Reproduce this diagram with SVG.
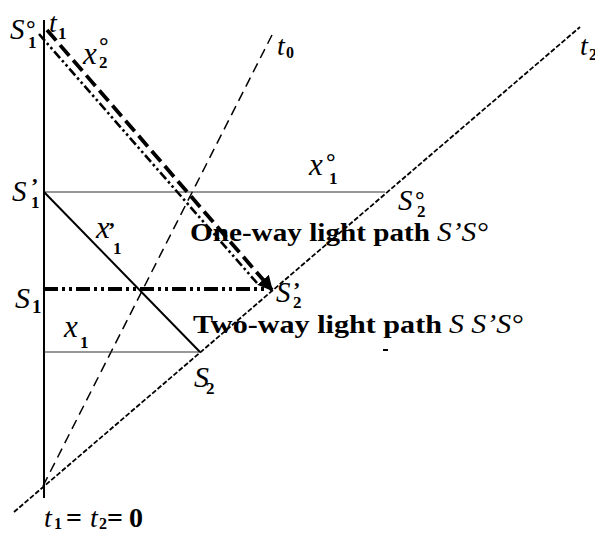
<svg xmlns="http://www.w3.org/2000/svg" width="595" height="535" viewBox="0 0 595 535">
<defs>
<style>
.it{font-family:"Liberation Serif","Times New Roman",serif;font-style:italic;fill:#000}
.bd{font-family:"Liberation Serif","Times New Roman",serif;font-weight:bold;fill:#000}
.thin{stroke:#333;stroke-width:1.2;fill:none}
.axis{stroke:#000;stroke-width:2;fill:none}
.t0{stroke:#000;stroke-width:1.5;stroke-dasharray:10 6;fill:none}
.t2{stroke:#000;stroke-width:1.8;stroke-dasharray:5 2;fill:none}
.heavy{stroke:#000;stroke-width:3.8;stroke-dasharray:14 6;fill:none}
.thindd{stroke:#000;stroke-width:2.6;stroke-dasharray:9 3 2.5 3 2.5 3;fill:none}
.hdd{stroke:#000;stroke-width:3.8;stroke-dasharray:14 4 3 4 3 4;fill:none}
</style>
<marker id="arr" viewBox="0 0 10 10" refX="9" refY="5" markerWidth="4" markerHeight="4" orient="auto" markerUnits="strokeWidth">
<path d="M0,0 L10,5 L0,10 z" fill="#000"/>
</marker>
</defs>
<rect width="595" height="535" fill="#fff"/>
<g id="connectors">
<line class="axis" x1="44" y1="20" x2="44" y2="498"/>
<line class="t2" x1="14" y1="512" x2="580" y2="27"/>
<line class="t0" x1="43" y1="486" x2="272" y2="35"/>
<line class="thin" x1="44" y1="192" x2="385" y2="192"/>
<line class="thin" x1="44" y1="352" x2="200" y2="352"/>
<line class="axis" x1="44" y1="192" x2="200" y2="352"/>
<line class="hdd" x1="44" y1="289" x2="268" y2="289"/>
<line class="thindd" x1="39" y1="34" x2="257" y2="283"/>
<line class="heavy" x1="47" y1="30" x2="272" y2="290" marker-end="url(#arr)"/>
<line stroke="#000" stroke-width="2" x1="383" y1="350" x2="388" y2="350"/>
</g>
<g id="S1deg">
<text class="it" x="10" y="39" font-size="29">S</text>
<text class="bd" x="26" y="37" font-size="24">°</text>
<text class="bd" x="28" y="48" font-size="17">1</text>
</g>
<g id="t1">
<text class="it" x="49" y="32" font-size="28">t</text>
<text class="bd" x="58" y="39" font-size="17">1</text>
</g>
<g id="x2deg">
<text class="it" x="83" y="64" font-size="31">x</text>
<text class="bd" x="99" y="54" font-size="24">°</text>
<text class="bd" x="99" y="68" font-size="17">2</text>
</g>
<g id="t0label">
<text class="it" x="277" y="55" font-size="28">t</text>
<text class="bd" x="286" y="58" font-size="16">0</text>
</g>
<g id="t2label">
<text class="it" x="580" y="55" font-size="28">t</text>
<text class="bd" x="589" y="60" font-size="16">2</text>
</g>
<g id="x1deg">
<text class="it" x="309" y="175" font-size="31">x</text>
<text class="bd" x="326" y="170" font-size="24">°</text>
<text class="bd" x="329" y="184" font-size="17">1</text>
</g>
<g id="S1prime">
<text class="it" x="12" y="201" font-size="29">S</text>
<text class="bd" x="31" y="193" font-size="22">’</text>
<text class="bd" x="31" y="208" font-size="17">1</text>
</g>
<g id="S2deg">
<text class="it" x="398" y="210" font-size="29">S</text>
<text class="bd" x="415" y="208" font-size="24">°</text>
<text class="bd" x="417" y="217" font-size="17">2</text>
</g>
<g id="x1prime">
<text class="it" x="96" y="238" font-size="31">x</text>
<text class="bd" x="108" y="237" font-size="22">’</text>
<text class="bd" x="113" y="254" font-size="17">1</text>
</g>
<g id="S1">
<text class="it" x="15" y="308" font-size="30">S</text>
<text class="bd" x="32" y="313" font-size="19">1</text>
</g>
<g id="S2prime">
<text class="it" x="276" y="302" font-size="29">S</text>
<text class="bd" x="293" y="297" font-size="22">’</text>
<text class="bd" x="293" y="308" font-size="17">2</text>
</g>
<g id="x1">
<text class="it" x="64" y="337" font-size="31">x</text>
<text class="bd" x="80" y="348" font-size="17">1</text>
</g>
<g id="S2">
<text class="it" x="194" y="387" font-size="30">S</text>
<text class="bd" x="206" y="394" font-size="17">2</text>
</g>
<g id="oneway">
<text class="bd" x="190" y="241" font-size="26" textLength="240" lengthAdjust="spacingAndGlyphs">One-way light path</text>
<text class="it" x="437" y="241" font-size="27" textLength="51" lengthAdjust="spacingAndGlyphs">S’S°</text>
</g>
<g id="twoway">
<text class="bd" x="193" y="333" font-size="26" textLength="249" lengthAdjust="spacingAndGlyphs">Two-way light path</text>
<text class="it" x="449" y="333" font-size="27" textLength="74" lengthAdjust="spacingAndGlyphs">S S’S°</text>
</g>
<g id="origin">
<text class="it" x="44" y="527" font-size="28">t</text>
<text class="bd" x="54" y="529" font-size="16">1</text>
<text class="bd" x="66" y="527" font-size="28">=</text>
<text class="it" x="90" y="527" font-size="28">t</text>
<text class="bd" x="99" y="529" font-size="16">2</text>
<text class="bd" x="107" y="527" font-size="28">=</text>
<text class="bd" x="129" y="527" font-size="28">0</text>
</g>
</svg>
